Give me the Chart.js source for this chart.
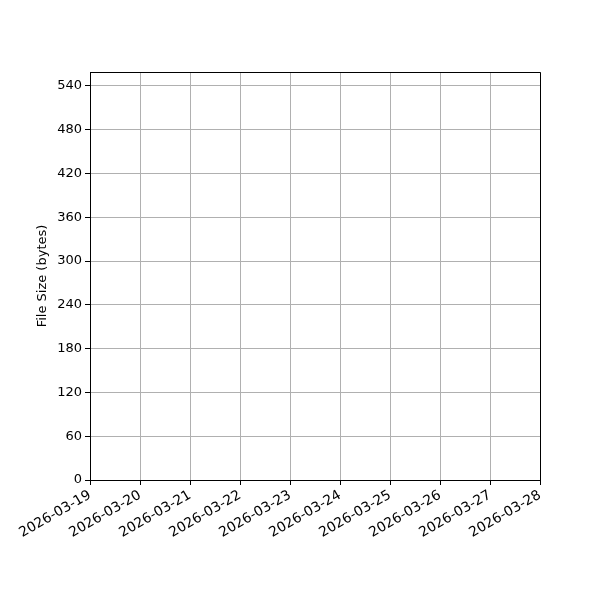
<!DOCTYPE html>
<html>
<head>
<meta charset="utf-8">
<script src="https://cdn.jsdelivr.net/npm/chart.js@4"></script>
<style>
  html, body { margin: 0; padding: 0; background: #fff; }
  #wrap { width: 600px; height: 600px; }
</style>
</head>
<body>
<div id="wrap"><canvas id="myChart" width="600" height="600"></canvas></div>
<script>
// dates on the x axis
const dates = ['2026-03-19', '2026-03-20', '2026-03-21', '2026-03-22', '2026-03-23',
               '2026-03-24', '2026-03-25', '2026-03-26', '2026-03-27', '2026-03-28'];
// file sizes (the chart has no data points)
const fileSizes = [];
const yTicks = [0, 60, 120, 180, 240, 300, 360, 420, 480, 540];
const yMax = 559;

// draw the top and right side of the frame
const frame = {
  id: 'frame',
  afterDraw(chart) {
    const a = chart.chartArea;
    const ctx = chart.ctx;
    ctx.save();
    ctx.strokeStyle = '#000';
    ctx.lineWidth = 1;
    ctx.beginPath();
    ctx.moveTo(a.left, a.top + 0.5);
    ctx.lineTo(a.right + 0.5, a.top + 0.5);
    ctx.lineTo(a.right + 0.5, a.bottom);
    ctx.stroke();
    ctx.restore();
  }
};

Chart.defaults.font.family = 'DejaVu Sans';
Chart.defaults.font.size = 13;
Chart.defaults.color = '#000';

const data = {
  labels: dates,
  datasets: [{
    label: 'File Size',
    data: fileSizes,
    borderColor: '#1f77b4',
    pointRadius: 0
  }]
};

const config = {
  type: 'line',
  data: data,
  options: {
    responsive: false,
    animation: false,
    layout: { padding: { top: 72, right: 60, left: 0, bottom: 0 } },
    plugins: { legend: { display: false }, tooltip: { enabled: false } },
    scales: {
      x: {
        type: 'category',
        offset: false,
        grid: { color: '#b0b0b0', lineWidth: 1, tickColor: '#000', tickLength: 5 },
        border: { color: '#000', width: 1 },
        ticks: { autoSkip: false, maxRotation: 30, minRotation: 30, padding: 2, font: { size: 13.8 } },
        afterFit(scale) { scale.height = 120; }
      },
      y: {
        min: 0,
        max: yMax,
        grid: { color: '#b0b0b0', lineWidth: 1, tickColor: '#000', tickLength: 5 },
        border: { color: '#000', width: 1 },
        ticks: { padding: 3 },
        afterBuildTicks(scale) { scale.ticks = yTicks.map(v => ({ value: v })); },
        title: { display: true, text: 'File Size (bytes)', font: { size: 13 }, padding: { top: 35, bottom: 0 } },
        afterFit(scale) { scale.width = 90; }
      }
    }
  },
  plugins: [frame]
};

var ctx = document.getElementById('myChart').getContext('2d');
var myChart = new Chart(ctx, config);
</script>
</body>
</html>
